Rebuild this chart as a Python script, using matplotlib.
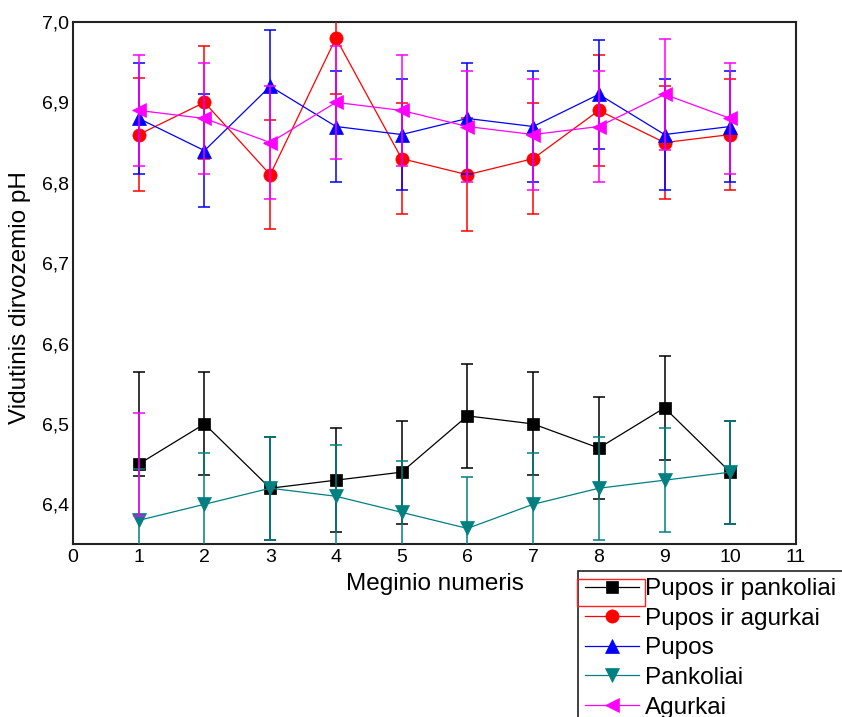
import matplotlib
matplotlib.use("Agg")
import matplotlib.pyplot as plt
from matplotlib.ticker import FuncFormatter, FixedLocator
from matplotlib.patches import Rectangle

plt.rcParams['font.family'] = ['Liberation Sans', 'DejaVu Sans']

x = [1, 2, 3, 4, 5, 6, 7, 8, 9, 10]

names = ["Pupos ir pankoliai", "Pupos ir agurkai", "Pupos", "Pankoliai", "Agurkai"]
pupos_pankoliai = [6.45, 6.50, 6.42, 6.43, 6.44, 6.51, 6.50, 6.47, 6.52, 6.44]
pupos_pankoliai_err_lo = [0.015, 0.064, 0.064, 0.065, 0.064, 0.065, 0.064, 0.064, 0.065, 0.064]
pupos_pankoliai_err_hi = [0.114, 0.064, 0.064, 0.065, 0.064, 0.065, 0.064, 0.064, 0.065, 0.064]

pupos_agurkai = [6.86, 6.90, 6.81, 6.98, 6.83, 6.81, 6.83, 6.89, 6.85, 6.86]
pupos_agurkai_err = [0.07, 0.07, 0.068, 0.07, 0.069, 0.07, 0.069, 0.069, 0.07, 0.069]

pupos = [6.88, 6.84, 6.92, 6.87, 6.86, 6.88, 6.87, 6.91, 6.86, 6.87]
pupos_err = [0.069, 0.07, 0.07, 0.069, 0.069, 0.069, 0.069, 0.068, 0.069, 0.069]

pankoliai = [6.38, 6.40, 6.42, 6.41, 6.39, 6.37, 6.40, 6.42, 6.43, 6.44]
pankoliai_err = [0.064, 0.064, 0.064, 0.064, 0.064, 0.064, 0.064, 0.064, 0.065, 0.064]

agurkai = [6.89, 6.88, 6.85, 6.90, 6.89, 6.87, 6.86, 6.87, 6.91, 6.88]
agurkai_err = [0.069, 0.069, 0.07, 0.07, 0.069, 0.069, 0.069, 0.069, 0.069, 0.069]

# stray (magenta coloured) error bar drawn at the first sample
stray_x = [1]
stray_y = [6.45]
stray_err = [0.064]

x_ticks = list(range(0, 12))
y_ticks = [6.4, 6.5, 6.6, 6.7, 6.8, 6.9, 7.0]

fig = plt.figure(figsize=(8.42, 7.17), dpi=100)
ax = fig.add_axes([0.0867, 0.2406, 0.8587, 0.7287])

series = [
    (pupos_pankoliai, [pupos_pankoliai_err_lo, pupos_pankoliai_err_hi], '#000000', 's', 8.5),
    (pupos_agurkai, pupos_agurkai_err, '#FF0000', 'o', 9.5),
    (pupos, pupos_err, '#0000FF', '^', 10),
    (pankoliai, pankoliai_err, '#008080', 'v', 10),
    (agurkai, agurkai_err, '#FF00FF', '<', 10),
]

handles = []
z = 2
for (vals, err, col, mk, ms), name in zip(series, names):
    ax.errorbar(x, vals, yerr=err, fmt='none', ecolor=col, elinewidth=1.1,
                capsize=4, capthick=1.1, zorder=z)
    ln, = ax.plot(x, vals, color=col, lw=0.9, marker=mk, markersize=ms,
                  markeredgewidth=0.5, markeredgecolor=col, label=name, zorder=z + 0.5)
    handles.append(ln)
    if name == "Agurkai":
        ax.errorbar(stray_x, stray_y, yerr=stray_err, fmt='none', ecolor=col,
                    elinewidth=1.1, capsize=4, capthick=1.1, zorder=z + 0.6)
    z += 1

ax.set_xlim(0, 11)
ax.set_ylim(6.35, 7.0)
ax.xaxis.set_major_locator(FixedLocator(x_ticks))
ax.yaxis.set_major_locator(FixedLocator(y_ticks))
ax.yaxis.set_major_formatter(FuncFormatter(lambda v, p: f"{v:.1f}".replace('.', ',')))
ax.tick_params(axis='both', length=0, labelsize=14, pad=3)
for s in ax.spines.values():
    s.set_linewidth(1.5)
    s.set_color('#222222')

ax.set_xlabel("Meginio numeris", fontsize=17.5)
ax.set_ylabel("Vidutinis dirvozemio pH", fontsize=17.5)
ax.xaxis.set_label_coords(0.5, -0.055)
ax.yaxis.set_label_coords(-0.058, 0.472)

leg = fig.legend(handles=handles, loc='upper left', bbox_to_anchor=(0.6865, 0.2036),
                 fontsize=17.5, frameon=True, fancybox=False, framealpha=1,
                 edgecolor='#222222', borderpad=0.3, borderaxespad=0,
                 handlelength=2.2, handletextpad=0.25, labelspacing=0.31,
                 numpoints=1)
leg.get_frame().set_linewidth(1.2)

fig.canvas.draw()
h0 = leg.legend_handles[0]
bb = h0.get_window_extent(fig.canvas.get_renderer())
rect = Rectangle((bb.x0 - 2, bb.y0 - 13), bb.width + 2, 27, transform=None,
                 fill=False, edgecolor='#FF2020', lw=1.0, zorder=10)
fig.patches.append(rect)

fig.savefig("out.png", dpi=100)
